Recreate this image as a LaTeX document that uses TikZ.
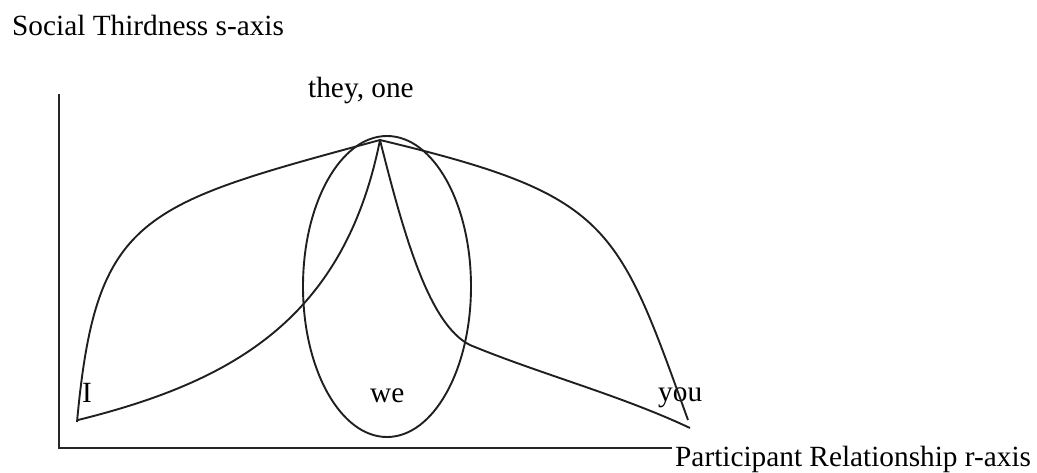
\documentclass[tikz,border=0pt]{standalone}
\usepackage{fontspec}
\setmainfont{Liberation Serif}
\begin{document}
\begin{tikzpicture}[x=1pt,y=-1pt,
  curve/.style={line width=1.9pt,black!88},
  axis/.style={line width=2pt,black!85},
  lbl/.style={anchor=base west,inner sep=0pt,font=\fontsize{29.3}{35}\selectfont}]
\useasboundingbox (0,0) rectangle (1037,472);
% labels
\node[lbl] (stitle) at (12,35) {Social Thirdness s-axis};
\node[lbl] (they) at (308,97) {they, one};
\node[lbl] (i) at (82,402) {I};
\node[lbl] (we) at (370,402) {we};
\node[lbl] (you) at (658,401) {you};
\node[lbl] (rtitle) at (675,466) {Participant Relationship r-axis};
% axes
\coordinate (ytop) at (59,94);
\coordinate (origin) at (59,448);
\coordinate (xend) at (672,448);
\draw[axis] (ytop) -- (origin) -- (xend);
% key points
\coordinate (apex) at (380,140);
\coordinate (istart) at (77,422);
\coordinate (istart2) at (78,420);
\coordinate (knee) at (470,345);
\coordinate (youend1) at (688,420);
\coordinate (youend2) at (690,428);
\coordinate (wecentre) at (387,286.5);
% ellipse
\draw[curve] (wecentre) ellipse [x radius=84pt, y radius=150.5pt];
% left outer
\draw[curve] (istart) .. controls (96,215) and (140,205) .. (apex);
% left inner
\draw[curve] (istart2) .. controls (231,382) and (344,320) .. (apex);
% right outer
\draw[curve] (apex) .. controls (610,195) and (617,223) .. (youend1);
% right inner
\draw[curve] (apex) .. controls (405,240) and (430,325) .. (knee)
  .. controls (540,374) and (620,395) .. (youend2);
\end{tikzpicture}
\end{document}
